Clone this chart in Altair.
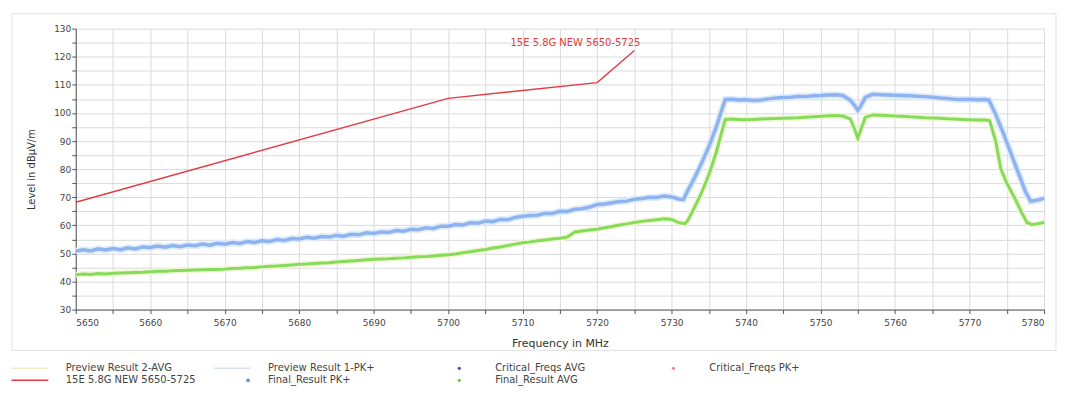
import altair as alt
import pandas as pd

FONT = "DejaVu Sans"

# ---------------- data ----------------
limit_name = "15E 5.8G NEW 5650-5725"
limit_freq = [5650, 5700, 5720, 5725]
limit_level = [68.2, 105.2, 110.8, 122.2]

# Peak trace (blue)
pk_freq = (list(range(5650, 5732))
           + [5731.6, 5732, 5733, 5734, 5735, 5736, 5736.6, 5737.2]
           + list(range(5738, 5755))
           + [5754.6, 5755, 5755.4]
           + list(range(5756, 5773))
           + [5772.6, 5773.5, 5774.5, 5775.5, 5776.5, 5777.5, 5778.2, 5779, 5780])
pk_level = [
    50.8, 51.3, 50.9, 51.6, 51.2, 51.7, 51.3, 52.0, 51.6, 52.3,
    52.1, 52.6, 52.2, 52.8, 52.4, 53.0, 52.7, 53.3, 52.9, 53.6,
    53.3, 53.9, 53.5, 54.2, 53.9, 54.5, 54.2, 54.9, 54.6, 55.3,
    55.1, 55.7, 55.4, 56.0, 55.8, 56.4, 56.1, 56.8, 56.6, 57.3,
    57.1, 57.6, 57.4, 58.1, 57.9, 58.6, 58.4, 59.1, 58.9, 59.7,
    59.7, 60.3, 60.1, 60.9, 60.7, 61.5, 61.3, 62.1, 62.0, 62.8,
    63.2, 63.5, 63.6, 64.3, 64.2, 65.0, 64.9, 65.7, 65.9, 66.5,
    67.4, 67.6, 68.0, 68.5, 68.6, 69.3, 69.5, 70.0, 69.9, 70.4,
    70.1, 69.3,
    69.2, 71.5, 76.5, 82.0, 88.0, 95.0, 100.0, 104.8,
    104.9, 104.6, 104.7, 104.4, 104.6, 105.0, 105.3, 105.5, 105.6, 105.9,
    105.8, 106.1, 106.2, 106.4, 106.5, 106.2, 104.5,
    102.5, 101.0, 102.5,
    105.5, 106.6, 106.5, 106.4, 106.3, 106.2, 106.1, 105.9, 105.8, 105.6,
    105.3, 105.1, 104.9, 104.8, 104.9, 104.7, 104.8,
    104.6, 99.5, 93.0, 86.0, 79.0, 72.0, 68.5, 68.9, 69.6,
]

# Average trace (green)
avg_freq = (list(range(5650, 5732))
            + [5731.8, 5732.2, 5733, 5734, 5735, 5736, 5736.6, 5737.2]
            + list(range(5738, 5755))
            + [5754.6, 5755, 5755.4]
            + list(range(5756, 5773))
            + [5772.7, 5773.5, 5774.2, 5775, 5776, 5777, 5777.7, 5778.3, 5779, 5780])
avg_level = [
    42.4, 42.7, 42.5, 42.8, 42.7, 42.9, 43.0, 43.1, 43.2, 43.3,
    43.5, 43.6, 43.6, 43.8, 43.9, 44.0, 44.1, 44.2, 44.3, 44.3,
    44.4, 44.6, 44.7, 44.9, 45.0, 45.2, 45.4, 45.5, 45.7, 45.9,
    46.1, 46.2, 46.4, 46.6, 46.7, 46.9, 47.1, 47.3, 47.5, 47.7,
    47.9, 48.0, 48.1, 48.3, 48.4, 48.6, 48.8, 48.9, 49.1, 49.3,
    49.5, 49.8, 50.2, 50.6, 51.0, 51.4, 51.9, 52.3, 52.8, 53.3,
    53.8, 54.1, 54.5, 54.8, 55.1, 55.4, 55.8, 57.6, 58.0, 58.3,
    58.6, 59.1, 59.6, 60.1, 60.5, 61.0, 61.4, 61.7, 62.0, 62.3,
    62.1, 60.9,
    60.6, 61.8, 66.0, 71.5, 78.0, 86.0, 92.0, 97.7,
    97.8, 97.7, 97.6, 97.7, 97.8, 97.9, 98.0, 98.1, 98.2, 98.3,
    98.5, 98.6, 98.8, 99.0, 99.1, 98.9, 97.8,
    94.0, 91.0, 94.0,
    98.4, 99.3, 99.2, 99.1, 98.9, 98.8, 98.6, 98.5, 98.3, 98.2,
    98.1, 97.9, 97.8, 97.7, 97.6, 97.5, 97.5,
    97.3, 90.0, 80.0, 75.0, 70.0, 64.5, 61.0, 60.3, 60.5, 61.0,
]

# Legend entries (column-major layout of the reference)
legend_labels = ["Preview Result 2-AVG", "15E 5.8G NEW 5650-5725",
                 "Preview Result 1-PK+", "Final_Result PK+",
                 "Critical_Freqs AVG", "Final_Result AVG",
                 "Critical_Freqs PK+"]
legend_col = [0, 0, 1, 1, 2, 2, 3]
legend_row = [0, 1, 0, 1, 0, 1, 0]
legend_kind = ["line", "line", "line", "dot", "dot", "dot", "dot"]

# styles
legend_colors = ["#f1ecc4", "#e43b43", "#d9e2ee", "#5f93dc",
                 "#4a4aa8", "#62c545", "#e98a8a"]

assert len(pk_freq) == len(pk_level)
assert len(avg_freq) == len(avg_level)

pk = pd.DataFrame({"freq": pk_freq, "level": pk_level})
avg = pd.DataFrame({"freq": avg_freq, "level": avg_level})
lim = pd.DataFrame({"freq": limit_freq, "level": limit_level})
lim_lab = pd.DataFrame({"freq": [limit_freq[-1]], "level": [limit_level[-1]],
                        "text": [limit_name]})
leg = pd.DataFrame({"label": legend_labels, "col": legend_col,
                    "row": legend_row, "kind": legend_kind})

# ---------------- main chart ----------------
W, H = 972, 282
xscale = alt.Scale(domain=[5650, 5780], nice=False, zero=False)
yscale = alt.Scale(domain=[30, 130], nice=False, zero=False)

common_axis = dict(grid=True, gridColor="#dadada", gridWidth=1,
                   domainColor="#555555", tickColor="#555555", tickSize=4,
                   labelFont=FONT, labelFontSize=9, labelColor="#444444",
                   titleFont=FONT, titleFontWeight="normal", titleColor="#333333")

xaxis = alt.Axis(title="Frequency in MHz", values=list(range(5650, 5781, 5)),
                 labelExpr="datum.value % 10 == 0 ? datum.label : ''",
                 format="d", labelPadding=5, titleFontSize=11, titlePadding=10,
                 **common_axis)
yaxis = alt.Axis(title="Level in dBµV/m", values=list(range(30, 131, 5)),
                 labelExpr="datum.value % 10 == 0 ? datum.label : ''",
                 format="d", labelPadding=1, titleFontSize=10, titlePadding=17,
                 **common_axis)

X = alt.X("freq:Q", scale=xscale, axis=xaxis)
Y = alt.Y("level:Q", scale=yscale, axis=yaxis)

frame = alt.Chart(alt.Data(values=[{}])).mark_rect(
    fillOpacity=0, stroke="#e2e2e2", strokeWidth=1, clip=False
).encode(x=alt.value(-64), x2=alt.value(W + 12), y=alt.value(-15), y2=alt.value(H + 41))

pk_halo = alt.Chart(pk).mark_line(color="#e0ebfb", strokeWidth=7).encode(x=X, y=Y)
pk_line = alt.Chart(pk).mark_line(color="#8db4f0", strokeWidth=3.5).encode(x=X, y=Y)
avg_halo = alt.Chart(avg).mark_line(color="#f0f6d6", strokeWidth=6).encode(x=X, y=Y)
avg_line = alt.Chart(avg).mark_line(color="#86dc5a", strokeWidth=3).encode(x=X, y=Y)
lim_line = alt.Chart(lim).mark_line(color="#e43b43", strokeWidth=1.4).encode(x=X, y=Y)
lim_text = alt.Chart(lim_lab).mark_text(
    align="right", baseline="middle", dx=6, dy=-8, fontSize=10,
    font=FONT, color="#e43b43"
).encode(x=X, y=Y, text="text:N")

main = alt.layer(frame, pk_halo, avg_halo, pk_line, avg_line, lim_line, lim_text
                 ).properties(width=W, height=H)

# ---------------- legend ----------------
lx = alt.X("col:Q", scale=alt.Scale(domain=[0, 1, 2, 3], range=[-10, 193, 421, 636]),
           axis=None)
ly = alt.Y("row:Q", scale=alt.Scale(domain=[0, 1], range=[12, 24]), axis=None)
lcolor = alt.Color("label:N", scale=alt.Scale(domain=legend_labels, range=legend_colors),
                   legend=None)

leg_base = alt.Chart(leg)
leg_text = leg_base.mark_text(align="left", baseline="middle", fontSize=10,
                              font=FONT, color="#444444").encode(x=lx, y=ly, text="label:N")
leg_lines = leg_base.transform_filter("datum.kind == 'line'").mark_point(
    shape="stroke", size=1369, strokeWidth=1.5, xOffset=-36, opacity=1
).encode(x=lx, y=ly, color=lcolor)
leg_dot1 = leg_base.transform_filter("datum.kind == 'dot' && datum.col == 1").mark_point(
    filled=True, size=14, xOffset=-20, opacity=1
).encode(x=lx, y=ly, color=lcolor)
leg_dot2 = leg_base.transform_filter("datum.kind == 'dot' && datum.col != 1").mark_point(
    filled=True, size=10, xOffset=-36, opacity=1
).encode(x=lx, y=ly, color=lcolor)

legend = alt.layer(leg_text, leg_lines, leg_dot1, leg_dot2).properties(width=900, height=28)

chart = alt.vconcat(main, legend, spacing=4).properties(
    padding={"left": 0, "top": 4, "right": 0, "bottom": 0}
).configure_view(stroke="transparent")

chart.save("out.html", embed_options={"renderer": "svg", "actions": False})
